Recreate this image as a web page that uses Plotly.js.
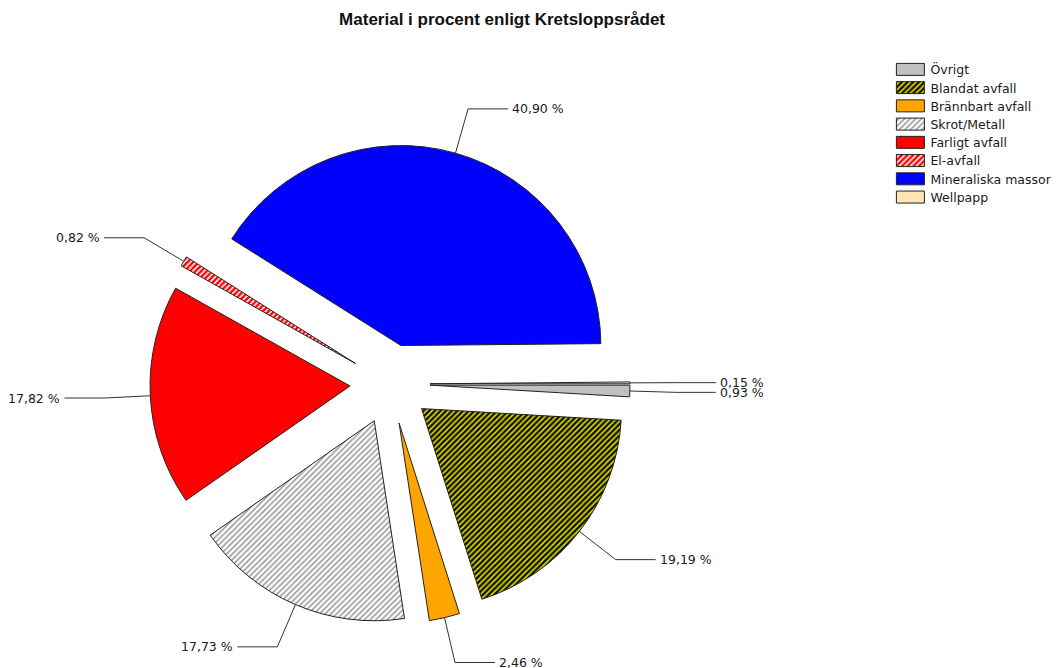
<!DOCTYPE html>
<html><head><meta charset="utf-8">
<script src="https://cdn.plot.ly/plotly-3.0.1.min.js"></script>
<style>html,body{margin:0;padding:0;background:#fff}#chart{width:1057px;height:668px}</style>
</head><body><div id="chart"></div>
<script>
const categories = ['Övrigt','Blandat avfall','Brännbart avfall','Skrot/Metall','Farligt avfall','El-avfall','Mineraliska massor','Wellpapp'];
const percentValues = [0.93, 19.19, 2.46, 17.73, 17.82, 0.82, 40.90, 0.15];
const sliceColors = ['#C0C0C0','#111100','#FFA500','#FFFFFF','#FF0000','#FF0000','#0000FF','#FFE4B5'];
const patternShapes = ['','/','','/','','/','',''];
const patternColors = ['#C0C0C0','#E6E600','#FFA500','#9A9A9A','#FF0000','#FFFFFF','#0000FF','#FFE4B5'];
const pullFraction = 0.2;
const chartTitle = 'Material i procent enligt Kretsloppsrådet';

function fmt(v){ return v.toFixed(2).replace('.', ',') + ' %'; }

const trace = {
  type: 'pie',
  labels: categories,
  values: percentValues,
  sort: false,
  direction: 'clockwise',
  rotation: 90,
  pull: categories.map(() => pullFraction),
  textinfo: 'none',
  hoverinfo: 'skip',
  domain: {x: [0.1419, 0.5960], y: [0.0659, 0.7844]},
  marker: {
    colors: sliceColors,
    line: {color: '#222222', width: 1},
    pattern: {shape: patternShapes, fgcolor: patternColors, bgcolor: sliceColors, size: 4, solidity: 0.38, fillmode: 'replace'}
  }
};

const LEGEND_X = 0.80;      // placed inside the paper so it never pushes the margins
const LEGEND_LEFT_PX = 890.4; // final left edge of the legend box

const layout = {
  width: 1057, height: 668,
  margin: {l: 0, r: 0, t: 0, b: 0},
  paper_bgcolor: '#FFFFFF',
  font: {family: 'DejaVu Sans, sans-serif', size: 12.5, color: '#1a1a1a'},
  title: {text: '<b>' + chartTitle + '</b>', x: 0.475, xanchor: 'center', y: 0.972, yanchor: 'middle', yref: 'container',
          font: {family: 'Liberation Sans, Arial, sans-serif', size: 17, color: '#111111'}},
  showlegend: true,
  legend: {x: LEGEND_X, y: 0.918, xanchor: 'left', yanchor: 'top',
           bgcolor: 'rgba(0,0,0,0)', font: {size: 12.5}, traceorder: 'normal'}
};

function parseT(el){
  const t = el.getAttribute('transform') || '';
  const m = t.match(/translate\(\s*([-\d.eE]+)(?:[\s,]+([-\d.eE]+))?\s*\)/);
  return m ? [parseFloat(m[1]), m[2] !== undefined ? parseFloat(m[2]) : 0] : [0, 0];
}

function tidyLegend(){
  document.querySelectorAll('#chart .legend path.legendpie').forEach(p => {
    p.setAttribute('d', 'M-14,-6H14V6H-14Z');
  });
  const items = Array.from(document.querySelectorAll('#chart .legend .traces'));
  let y0 = null;
  items.forEach(g => {
    const [x, cur] = parseT(g);
    let oy = g.getAttribute('data-oy');
    const last = g.getAttribute('data-set');
    if (oy === null || last === null || Math.abs(parseFloat(last) - cur) > 0.01) {
      oy = cur; g.setAttribute('data-oy', oy);
    } else oy = parseFloat(oy);
    if (y0 === null) y0 = oy;
    const ny = y0 + (oy - y0) * 18 / 19;
    g.setAttribute('transform', 'translate(' + x + ',' + ny + ')');
    g.setAttribute('data-set', ny);
  });
  const leg = document.querySelector('#chart g.legend');
  if (leg) {
    const [lx, ly] = parseT(leg);
    const base = LEGEND_X * 1057;
    if (Math.abs(lx - base) < 3) {
      leg.setAttribute('transform', 'translate(' + (lx + (LEGEND_LEFT_PX - base)) + ',' + ly + ')');
    }
  }
}

const gd = document.getElementById('chart');
Plotly.newPlot(gd, [trace], layout, {staticPlot: true}).then(() => {
  const cd = gd.calcdata[0];
  const cx = cd[0].cx, cy = cd[0].cy, r = cd[0].r;
  const sz = gd._fullLayout._size;
  const toX = px => (px - sz.l) / sz.w;
  const toY = py => 1 - (py - sz.t) / sz.h;
  const shapes = [], annotations = [];
  cd.forEach((pt, k) => {
    const i = (pt.i !== undefined) ? pt.i : k;
    const ux = pt.pxmid[0] / r, uy = pt.pxmid[1] / r;
    const ox = cx + ux * r * pullFraction, oy = cy + uy * r * pullFraction;
    const ax = ox + ux * r, ay = oy + uy * r;
    const ex = ox + ux * r * 1.23, ey = oy + uy * r * 1.23;
    const right = ux >= 0;
    const hx = ex + (right ? 40 : -40);
    shapes.push({type: 'path', xref: 'paper', yref: 'paper',
      path: 'M' + toX(ax) + ',' + toY(ay) + 'L' + toX(ex) + ',' + toY(ey) + 'L' + toX(hx) + ',' + toY(ey),
      line: {color: '#333333', width: 1}});
    annotations.push({xref: 'paper', yref: 'paper', x: toX(hx + (right ? 2 : -2)), y: toY(ey),
      xanchor: right ? 'left' : 'right', yanchor: 'middle', showarrow: false,
      text: fmt(percentValues[i]), font: {size: 12.5, color: '#1a1a1a'}});
  });
  return Plotly.relayout(gd, {shapes: shapes, annotations: annotations});
}).then(() => { tidyLegend(); setTimeout(tidyLegend, 0); setTimeout(tidyLegend, 100); });
gd.on('plotly_afterplot', () => setTimeout(tidyLegend, 0));
</script>
</body></html>
